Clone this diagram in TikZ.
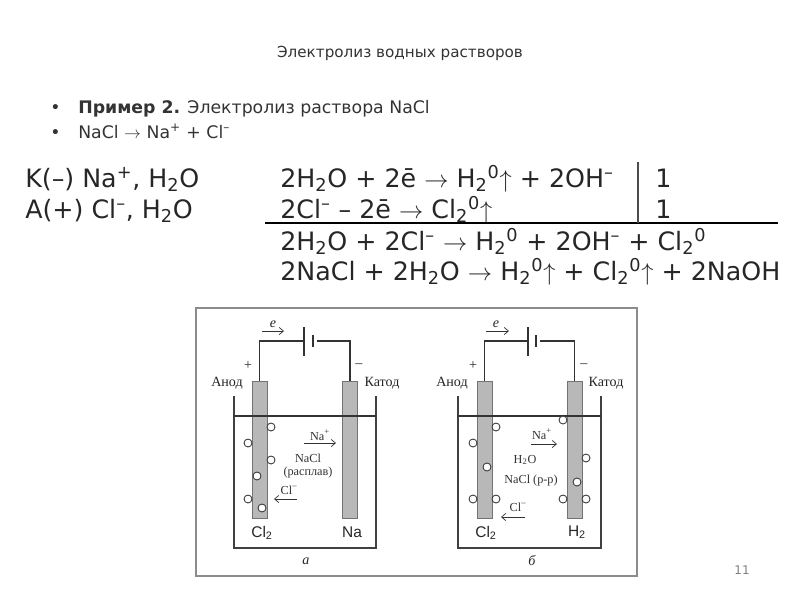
\documentclass[tikz,border=0pt]{standalone}
\usepackage{amsmath}
\usepackage{fontspec}
\usepackage{xcolor}
\usetikzlibrary{arrows.meta}
\setmainfont{DejaVu Sans}
\newfontfamily\cellserif{Liberation Serif}
\newfontfamily\cellsans{Liberation Sans}
\definecolor{slidetext}{HTML}{333333}
\definecolor{framegray}{HTML}{8C8C8C}
\definecolor{platefill}{HTML}{B8B8B8}
\newcommand{\lo}[1]{$_{\text{#1}}$}
\newcommand{\hi}[1]{$^{\text{#1}}$}
\tikzset{
  titletext/.style={anchor=base,inner sep=0pt,text=slidetext,font=\fontsize{10.8}{13}\selectfont},
  listtext/.style={anchor=base west,inner sep=0pt,text=slidetext,font=\fontsize{12.3}{15}\selectfont},
  eqtext/.style={anchor=base west,inner sep=0pt,text=black!85,font=\fontsize{18}{22}\selectfont},
  frameline/.style={draw=framegray,line width=1.2pt,fill=white},
  electrode/.style={draw=black!55,fill=platefill,line width=0.5pt,minimum width=0.375cm,minimum height=3.425cm,inner sep=0pt},
  bubble/.style={circle,draw=black!80,fill=white,line width=0.6pt,minimum size=0.2cm,inner sep=0pt},
  wire/.style={draw=black!80,line width=0.8pt},
  vessel/.style={draw=black!75,line width=1.1pt},
  serifsign/.style={text=black!80,font=\cellserif\fontsize{8.7}{9.5}\selectfont,inner sep=0pt,align=center},
  sidelabel/.style={text=black!85,font=\cellserif\fontsize{10}{12}\selectfont,inner sep=0pt},
  gasmark/.style={text=black!85,font=\cellsans\fontsize{11}{12}\selectfont,inner sep=0pt},
  flow/.style={-{Straight Barb[length=3pt,width=5pt]},draw=black!80,line width=0.5pt}
}

\begin{document}
\begin{tikzpicture}[x=0.025cm,y=-0.025cm]
    \useasboundingbox (0,0) rectangle (800,600);
    % slide heading and list
    \node[titletext] (heading) at (400,57) {Электролиз водных растворов};
    \node[listtext] (dotA) at (50,113) {•};
    \node[listtext] (example) at (78,113) {\textbf{Пример 2.} Электролиз раствора NaCl};
    \node[listtext] (dotB) at (50,138) {•};
    \node[listtext] (ionize) at (78,138) {NaCl $\rightarrow$ Na\hi{+} + Cl\hi{–}};
    % equations
    \node[eqtext] (ionsK) at (25,187) {K(–) Na\hi{+}, H\lo{2}O};
    \node[eqtext] (ionsA) at (25,218) {A(+) Cl\hi{–}, H\lo{2}O};
    \node[eqtext] (eqK) at (280,187) {2H\lo{2}O + 2ē $\rightarrow$ H\lo{2}\hi{0}$\uparrow$ + 2OH\hi{–}};
    \node[eqtext] (eqA) at (280,218) {2Cl\hi{–} – 2ē $\rightarrow$ Cl\lo{2}\hi{0}$\uparrow$};
    \node[eqtext] (coefK) at (655,187) {1};
    \node[eqtext] (coefA) at (655,218) {1};
    \node[eqtext] (eqIon) at (280,250) {2H\lo{2}O + 2Cl\hi{–} $\rightarrow$ H\lo{2}\hi{0} + 2OH\hi{–} + Cl\lo{2}\hi{0}};
    \node[eqtext] (eqFull) at (280,280) {2NaCl + 2H\lo{2}O $\rightarrow$ H\lo{2}\hi{0}$\uparrow$ + Cl\lo{2}\hi{0}$\uparrow$ + 2NaOH};
    \coordinate (ruleL) at (265,223);
    \coordinate (ruleR) at (778,223);
    \coordinate (barT) at (638,162);
    \coordinate (barB) at (638,223);
    \draw[line width=0.9pt] (ruleL) -- (ruleR);
    \draw[line width=0.9pt,black!70] (barT) -- (barB);
    % frame
    \draw[frameline] (196,308) rectangle (637,576);
    % cell a
    \node[electrode] (anodeA) at (259.5,449.5) {};
    \node[electrode] (cathodeA) at (350,449.5) {};
    \draw[vessel] (234,396) |- (376,548) -- (376,396);
    \coordinate (levelAL) at (234,416);
    \coordinate (levelAR) at (376,416);
    \draw[wire] (levelAL) -- (levelAR);
    \coordinate (battAL) at (304,341);
    \coordinate (battAS) at (313,341);
    \draw[wire] (anodeA.north) |- (battAL);
    \draw[wire] (cathodeA.north) |- (battAS);
    \fill[white] (305,335) rectangle (316.5,347);
    \draw[wire] (304,327) -- (304,356);
    \draw[line width=1.3pt,black!80] (313,335) -- (313,347);
    \node[sidelabel] (plusA) at (248,366) {+};
    \node[sidelabel] (minusA) at (359,366) {–};
    \node[sidelabel] (anodeLabelA) at (227,383) {Анод};
    \node[sidelabel] (cathodeLabelA) at (382,383) {Катод};
    \node[sidelabel] (electronA) at (273,324) {\textit{e}};
    \coordinate (electronAL) at (262,331);
    \coordinate (electronAR) at (284,331);
    \draw[flow] (electronAL) -- (electronAR);
    \node[bubble] (bubA1) at (271,427) {};
    \node[bubble] (bubA2) at (248,443) {};
    \node[bubble] (bubA3) at (271,460) {};
    \node[bubble] (bubA4) at (257,476) {};
    \node[bubble] (bubA5) at (248,499) {};
    \node[bubble] (bubA6) at (262,508) {};
    \node[serifsign] (sodiumA) at (320,435) {Na\hi{+}};
    \coordinate (sodiumAL) at (304,443);
    \coordinate (sodiumAR) at (336,443);
    \draw[flow] (sodiumAL) -- (sodiumAR);
    \node[serifsign] (meltA) at (308,466) {NaCl\\(расплав)};
    \node[serifsign] (chlorideA) at (289,490) {Cl\hi{–}};
    \coordinate (chlorideAR) at (297,499);
    \coordinate (chlorideAL) at (274,499);
    \draw[flow] (chlorideAR) -- (chlorideAL);
    \node[gasmark] (gasAL) at (262,533) {Cl\lo{2}};
    \node[gasmark] (gasAR) at (352,532) {Na};
    \node[sidelabel] (tagA) at (306,561) {\textit{а}};
    % cell b
    \node[electrode] (anodeB) at (484.5,449.5) {};
    \node[electrode] (cathodeB) at (574.5,449.5) {};
    \draw[vessel] (458,396) |- (601,548) -- (601,396);
    \coordinate (levelBL) at (458,416);
    \coordinate (levelBR) at (601,416);
    \draw[wire] (levelBL) -- (levelBR);
    \coordinate (battBL) at (528,341);
    \coordinate (battBS) at (536,341);
    \draw[wire] (anodeB.north) |- (battBL);
    \draw[wire] (cathodeB.north) |- (battBS);
    \fill[white] (529,335) rectangle (540,347);
    \draw[wire] (528,327) -- (528,356);
    \draw[line width=1.3pt,black!80] (536,335) -- (536,347);
    \node[sidelabel] (plusB) at (473,366) {+};
    \node[sidelabel] (minusB) at (584,366) {–};
    \node[sidelabel] (anodeLabelB) at (452,383) {Анод};
    \node[sidelabel] (cathodeLabelB) at (606,383) {Катод};
    \node[sidelabel] (electronB) at (496,324) {\textit{e}};
    \coordinate (electronBL) at (486,331);
    \coordinate (electronBR) at (509,331);
    \draw[flow] (electronBL) -- (electronBR);
    \node[bubble] (bubB1) at (496,427) {};
    \node[bubble] (bubB2) at (473,443) {};
    \node[bubble] (bubB3) at (487,467) {};
    \node[bubble] (bubB4) at (473,499) {};
    \node[bubble] (bubB5) at (496,499) {};
    \node[bubble] (bubB6) at (563,420) {};
    \node[bubble] (bubB7) at (586,458) {};
    \node[bubble] (bubB8) at (577,482) {};
    \node[bubble] (bubB9) at (563,499) {};
    \node[bubble] (bubB10) at (586,499) {};
    \node[serifsign] (sodiumB) at (542,434) {Na\hi{+}};
    \coordinate (sodiumBL) at (531,444);
    \coordinate (sodiumBR) at (557,444);
    \draw[flow] (sodiumBL) -- (sodiumBR);
    \node[serifsign] (waterB) at (525,460) {H\lo{2}O};
    \node[serifsign] (solutionB) at (531,481) {NaCl (р-р)};
    \node[serifsign] (chlorideB) at (518,507) {Cl\hi{–}};
    \coordinate (chlorideBR) at (525,517);
    \coordinate (chlorideBL) at (501,517);
    \draw[flow] (chlorideBR) -- (chlorideBL);
    \node[gasmark] (gasBL) at (486,533) {Cl\lo{2}};
    \node[gasmark] (gasBR) at (577,532) {H\lo{2}};
    \node[sidelabel] (tagB) at (532,561) {\textit{б}};
    % page number
    \node[text=black!50,font=\fontsize{8.5}{10}\selectfont] (pageno) at (742,570) {11};
  \end{tikzpicture}
\end{document}
